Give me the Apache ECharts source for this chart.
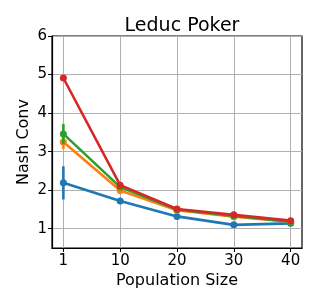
<!DOCTYPE html>
<html><head><meta charset="utf-8">
<script src="https://cdn.jsdelivr.net/npm/echarts@6/dist/echarts.min.js"></script>
<style>html,body{margin:0;padding:0;background:#fff}#c{width:319px;height:306px}</style>
</head><body><div id="c"></div>
<script>
const popSizes = ['1', '10', '20', '30', '40'];
const yTicks = [1, 2, 3, 4, 5, 6];
const blueVals = [2.19, 1.72, 1.32, 1.10, 1.14];
const orangeVals = [3.25, 1.99, 1.48, 1.31, 1.18];
const greenVals = [3.46, 2.08, 1.50, 1.33, 1.18];
const redVals = [4.91, 2.13, 1.51, 1.36, 1.21];
const blueErr = [0.43, 0, 0, 0, 0];
const orangeErr = [0.18, 0, 0, 0, 0];
const greenErr = [0.26, 0, 0, 0, 0];
const redErr = [0.03, 0, 0, 0, 0];
const colors = ['#1f77b4', '#ff7f0e', '#2ca02c', '#d62728'];
const seriesVals = [blueVals, orangeVals, greenVals, redVals];
const seriesErr = [blueErr, orangeErr, greenErr, redErr];

const font = 'DejaVu Sans';
const series = [];
seriesVals.forEach((vals, si) => {
  const errData = vals.map((v, i) => [i, v - seriesErr[si][i], v + seriesErr[si][i]]);
  series.push({
    type: 'custom', z: 2 + si * 2, silent: true,
    data: errData,
    encode: {x: 0, y: [1, 2]},
    renderItem: (params, api) => {
      const lo = api.coord([api.value(0), api.value(1)]);
      const hi = api.coord([api.value(0), api.value(2)]);
      return {type: 'line', shape: {x1: lo[0], y1: lo[1], x2: hi[0], y2: hi[1]},
        style: {stroke: colors[si], lineWidth: 2.6}};
    }
  });
  series.push({
    type: 'line', z: 3 + si * 2, silent: true,
    data: vals.map((v, i) => [i, v]),
    symbol: 'circle', symbolSize: 7,
    lineStyle: {color: colors[si], width: 2.6},
    itemStyle: {color: colors[si]},
    animation: false
  });
});

const chart = echarts.init(document.getElementById('c'), null, {renderer: 'canvas'});
chart.setOption({
  animation: false,
  backgroundColor: '#fff',
  title: {text: 'Leduc Poker', left: 177, top: 12, textAlign: 'center',
    textStyle: {fontFamily: font, fontSize: 19, fontWeight: 'normal', color: '#000'}},
  grid: {left: 52, right: 17, top: 36, bottom: 58, show: true, borderColor: '#000', borderWidth: 1.2},
  xAxis: {
    type: 'value', min: -0.2, max: 4.2,
    name: 'Population Size', nameLocation: 'middle', nameGap: 25, nameMoveOverlap: false,
    nameTextStyle: {fontFamily: font, fontSize: 16, color: '#000'},
    axisLine: {show: true, onZero: false, lineStyle: {color: '#000', width: 1.2}},
    axisTick: {show: true, length: 4, customValues: [0, 1, 2, 3, 4], lineStyle: {color: '#000'}},
    axisLabel: {customValues: [0, 1, 2, 3, 4], formatter: v => popSizes[Math.round(v)],
      fontFamily: font, fontSize: 15, color: '#000', margin: 6},
    splitLine: {show: true, lineStyle: {color: '#b0b0b0', width: 1}}
  },
  yAxis: {
    type: 'value', min: 0.5, max: 6,
    name: 'Nash Conv', nameLocation: 'middle', nameGap: 20, nameMoveOverlap: false,
    nameTextStyle: {fontFamily: font, fontSize: 16, color: '#000'},
    axisLine: {show: true, onZero: false, lineStyle: {color: '#000', width: 1.2}},
    axisTick: {show: true, length: 4, customValues: yTicks, lineStyle: {color: '#000'}},
    axisLabel: {customValues: yTicks, fontFamily: font, fontSize: 15, color: '#000', margin: 5},
    splitLine: {show: true, lineStyle: {color: '#b0b0b0', width: 1}}
  },
  series: series
});
</script></body></html>
